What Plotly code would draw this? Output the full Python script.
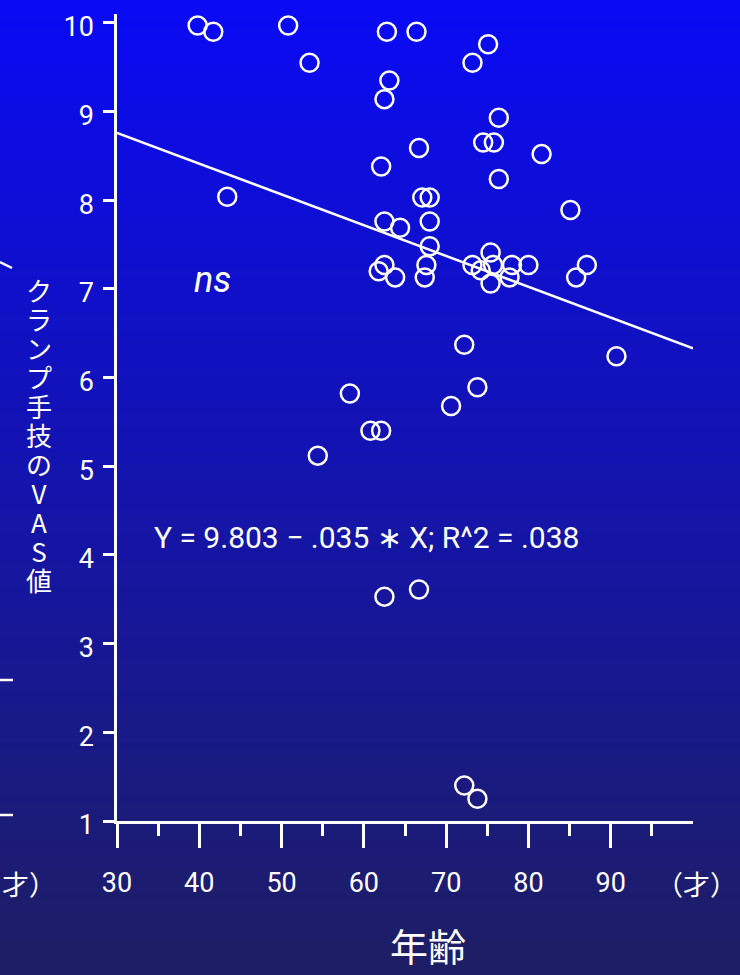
import plotly.graph_objects as go

# ---- data ----
age = [39.8, 41.7, 50.8, 53.4, 62.8, 66.4, 63.1, 62.5, 66.7, 62.1,
       43.4, 75.1, 73.2, 76.4, 74.5, 75.8, 81.6, 76.4, 67.1, 68.0,
       85.1, 62.5, 64.4, 68.0, 68.0, 75.4, 62.5, 61.8, 63.8, 67.6,
       67.4, 73.2, 74.2, 75.7, 75.4, 78.0, 77.7, 80.0, 87.1, 85.8,
       72.2, 90.7, 58.3, 73.8, 70.6, 60.8, 62.1, 54.4, 62.5, 66.7,
       72.2, 73.8]
vas = [9.97, 9.90, 9.97, 9.55, 9.90, 9.90, 9.35, 9.14, 8.59, 8.38,
       8.04, 9.76, 9.55, 8.93, 8.65, 8.65, 8.52, 8.24, 8.03, 8.03,
       7.89, 7.76, 7.69, 7.76, 7.48, 7.41, 7.27, 7.20, 7.13, 7.27,
       7.13, 7.27, 7.21, 7.27, 7.06, 7.27, 7.13, 7.27, 7.27, 7.13,
       6.37, 6.24, 5.82, 5.89, 5.68, 5.40, 5.40, 5.12, 3.53, 3.61,
       1.40, 1.25]
reg_age = [30, 100]
reg_vas = [8.76, 6.33]

x_ticks = [30, 40, 50, 60, 70, 80, 90]
x_minor = [35, 45, 55, 65, 75, 85, 95]
y_ticks = [1, 2, 3, 4, 5, 6, 7, 8, 9, 10]

y_title_chars = ["ク", "ラ", "ン", "プ", "手", "技", "の", "V", "A", "S", "値"]
x_title = "年齢"
unit_text = "（才）"
unit_text_left = "才）"
ns_text = "<i>ns</i>"
eq_text = "Y = 9.803 − .035 ∗ X; R^2 = .038"

# ---- layout geometry ----
W, H = 740, 975
L, R, T, B = 117, 47, 14, 154
PW, PH = W - L - R, H - T - B


def px(x):
    return (x - L) / PW


def py(y):
    return (H - B - y) / PH


top_c = (10, 10, 245)
bot_c = (30, 30, 100)

shapes = []
N = 130
for i in range(N):
    f = i / (N - 1)
    c = tuple(round(top_c[k] + (bot_c[k] - top_c[k]) * f) for k in range(3))
    y0 = i * H / N
    y1 = (i + 1) * H / N + 1
    shapes.append(dict(type="rect", xref="paper", yref="paper",
                       x0=px(-2), x1=px(W + 2), y0=py(y1), y1=py(y0),
                       fillcolor="rgb(%d,%d,%d)" % c, line=dict(width=0),
                       layer="below"))

# fragments of a neighbouring chart at the left edge
for (a, b, c2, d) in [(0, 680, 13, 680), (0, 815, 13, 815), (0, 262, 12, 268)]:
    shapes.append(dict(type="line", xref="paper", yref="paper",
                       x0=px(a), y0=py(b), x1=px(c2), y1=py(d),
                       line=dict(color="white", width=2.5), layer="above"))

fig = go.Figure()
fig.add_trace(go.Scatter(x=reg_age, y=reg_vas, mode="lines",
                         line=dict(color="white", width=2.5),
                         hoverinfo="skip", cliponaxis=False))
fig.add_trace(go.Scatter(x=age, y=vas, mode="markers",
                         marker=dict(symbol="circle-open", size=18, color="white",
                                     line=dict(width=2.5, color="white")),
                         cliponaxis=False))

y_title = "<br>".join('<span style="font-size:26px">%s</span>' % ch for ch in y_title_chars)

annotations = [
    dict(text=y_title, xref="paper", yref="paper", x=px(39), y=py(435),
         xanchor="center", yanchor="middle", showarrow=False, align="center",
         font=dict(family="Noto Sans CJK JP", size=22.3, color="white")),
    dict(text=x_title, xref="paper", yref="paper", x=px(428), y=py(974),
         xanchor="center", yanchor="bottom", showarrow=False,
         font=dict(family="Noto Sans CJK JP", size=38, color="white")),
    dict(text=unit_text, xref="paper", yref="paper", x=px(696), y=py(883),
         xanchor="center", yanchor="middle", showarrow=False,
         font=dict(family="Noto Sans CJK JP", size=27, color="white")),
    dict(text=unit_text_left, xref="paper", yref="paper", x=px(0), y=py(883),
         xanchor="left", yanchor="middle", showarrow=False,
         font=dict(family="Noto Sans CJK JP", size=27, color="white")),
    dict(text=ns_text, xref="paper", yref="paper", x=px(212), y=py(280),
         xanchor="center", yanchor="middle", showarrow=False,
         font=dict(family="Roboto", size=36, color="white")),
    dict(text=eq_text, xref="paper", yref="paper", x=px(152), y=py(537),
         xanchor="left", yanchor="middle", showarrow=False,
         font=dict(family="Roboto", size=30, color="white")),
]

fig.update_layout(
    width=W, height=H,
    margin=dict(l=L, r=R, t=T, b=B, pad=0),
    paper_bgcolor="rgb(20,20,170)",
    plot_bgcolor="rgba(0,0,0,0)",
    showlegend=False,
    shapes=shapes,
    annotations=annotations,
    xaxis=dict(range=[30, 100], showgrid=False, zeroline=False,
               showline=True, linecolor="white", linewidth=2.5,
               ticks="outside", tickvals=x_ticks, ticklen=24, tickwidth=2.5,
               tickcolor="white", ticklabelstandoff=12,
               tickfont=dict(family="Roboto", size=27, color="white"),
               minor=dict(tickvals=x_minor, ticks="outside", ticklen=12,
                          tickwidth=2.5, tickcolor="white", showgrid=False)),
    yaxis=dict(range=[1, 10.1], showgrid=False, zeroline=False,
               showline=True, linecolor="white", linewidth=2.5,
               ticks="outside", tickvals=y_ticks, ticklen=11, tickwidth=2.5,
               tickcolor="white", ticklabelstandoff=4, ticklabelshift=4,
               tickfont=dict(family="Roboto", size=27, color="white")),
)

fig.write_html("out.html",
               config={"displayModeBar": False},
               post_script="document.body.style.margin='0';"
                           "document.body.style.overflow='hidden';")
